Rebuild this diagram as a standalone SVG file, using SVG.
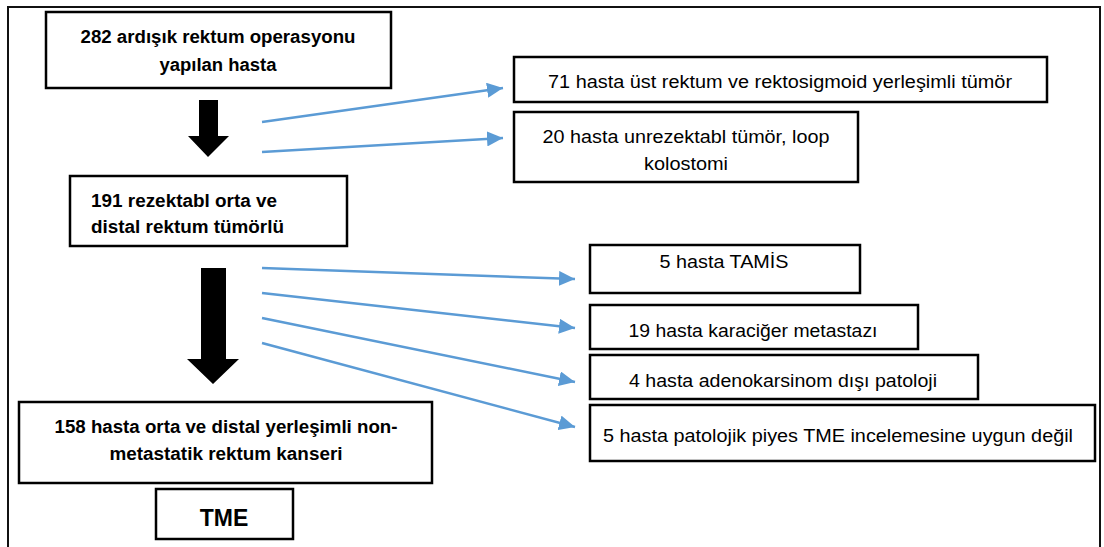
<svg xmlns="http://www.w3.org/2000/svg" width="1104" height="547" viewBox="0 0 1104 547">
<style>
.box{fill:#fff;stroke:#000;stroke-width:2.5}
.b{font-family:"Liberation Sans",Arial,sans-serif;font-weight:bold;font-size:18px;fill:#000}
.r{font-family:"Liberation Sans",Arial,sans-serif;font-size:17.5px;fill:#000}
.c{text-anchor:middle}
.link{stroke:#5B9BD5;stroke-width:2.5;fill:none;marker-end:url(#ah)}
.big{fill:#000}
</style>
<defs>
<marker id="ah" markerUnits="userSpaceOnUse" markerWidth="17" markerHeight="15" refX="16" refY="7.5" orient="auto">
<path d="M0,0 L16,7.5 L0,15 z" fill="#5B9BD5"/>
</marker>
</defs>
<rect x="0" y="0" width="1104" height="547" fill="#fff"/>
<rect x="8" y="7" width="1092" height="560" fill="none" stroke="#111" stroke-width="2"/>
<g id="connectors">
<polygon class="big" points="199,100 218,100 218,136 229,136 208,157 188,136 199,136"/>
<polygon class="big" points="201,268 226,268 226,359 239,359 213,384 187,359 201,359"/>
<line class="link" x1="262" y1="122" x2="503" y2="88"/>
<line class="link" x1="262" y1="152" x2="503" y2="138"/>
<line class="link" x1="262" y1="268" x2="575" y2="279"/>
<line class="link" x1="262" y1="293" x2="575" y2="328"/>
<line class="link" x1="262" y1="318" x2="575" y2="382"/>
<line class="link" x1="262" y1="343" x2="575" y2="427"/>
</g>
<g id="n282">
<rect class="box" x="46" y="12" width="345" height="76"/>
<text class="b c" x="218" y="43" textLength="275" lengthAdjust="spacingAndGlyphs">282 ardışık rektum operasyonu</text>
<text class="b c" x="218" y="71" textLength="117" lengthAdjust="spacingAndGlyphs">yapılan hasta</text>
</g>
<g id="n191">
<rect class="box" x="70" y="176" width="277" height="70"/>
<text class="b" x="91" y="207" textLength="186" lengthAdjust="spacingAndGlyphs">191 rezektabl orta ve</text>
<text class="b" x="91" y="233" textLength="193" lengthAdjust="spacingAndGlyphs">distal rektum tümörlü</text>
</g>
<g id="n71">
<rect class="box" x="514" y="57" width="533" height="45"/>
<text class="r c" x="780" y="88" textLength="464" lengthAdjust="spacingAndGlyphs">71 hasta üst rektum ve rektosigmoid yerleşimli tümör</text>
</g>
<g id="n20">
<rect class="box" x="514" y="112" width="344" height="70"/>
<text class="r c" x="686" y="143" textLength="287" lengthAdjust="spacingAndGlyphs">20 hasta unrezektabl tümör, loop</text>
<text class="r c" x="686" y="170" textLength="84" lengthAdjust="spacingAndGlyphs">kolostomi</text>
</g>
<g id="nTAMIS">
<rect class="box" x="590" y="245" width="270" height="48"/>
<text class="r c" x="724" y="268" textLength="129" lengthAdjust="spacingAndGlyphs">5 hasta TAMİS</text>
</g>
<g id="n19">
<rect class="box" x="590" y="305" width="328" height="44"/>
<text class="r c" x="753" y="337" textLength="249" lengthAdjust="spacingAndGlyphs">19 hasta karaciğer metastazı</text>
</g>
<g id="n4">
<rect class="box" x="590" y="355" width="388" height="44"/>
<text class="r c" x="783" y="387" textLength="308" lengthAdjust="spacingAndGlyphs">4 hasta adenokarsinom dışı patoloji</text>
</g>
<g id="n5">
<rect class="box" x="590" y="405" width="505" height="56"/>
<text class="r c" x="838" y="442" textLength="470" lengthAdjust="spacingAndGlyphs">5 hasta patolojik piyes TME incelemesine uygun değil</text>
</g>
<g id="n158">
<rect class="box" x="19" y="402" width="413" height="81"/>
<text class="b c" x="226" y="433" textLength="343" lengthAdjust="spacingAndGlyphs">158 hasta orta ve distal yerleşimli non-</text>
<text class="b c" x="226" y="460" textLength="233" lengthAdjust="spacingAndGlyphs">metastatik rektum kanseri</text>
</g>
<g id="nTME">
<rect class="box" x="156" y="489" width="137" height="50"/>
<text class="b c" x="224" y="526" style="font-size:23px">TME</text>
</g>
</svg>
